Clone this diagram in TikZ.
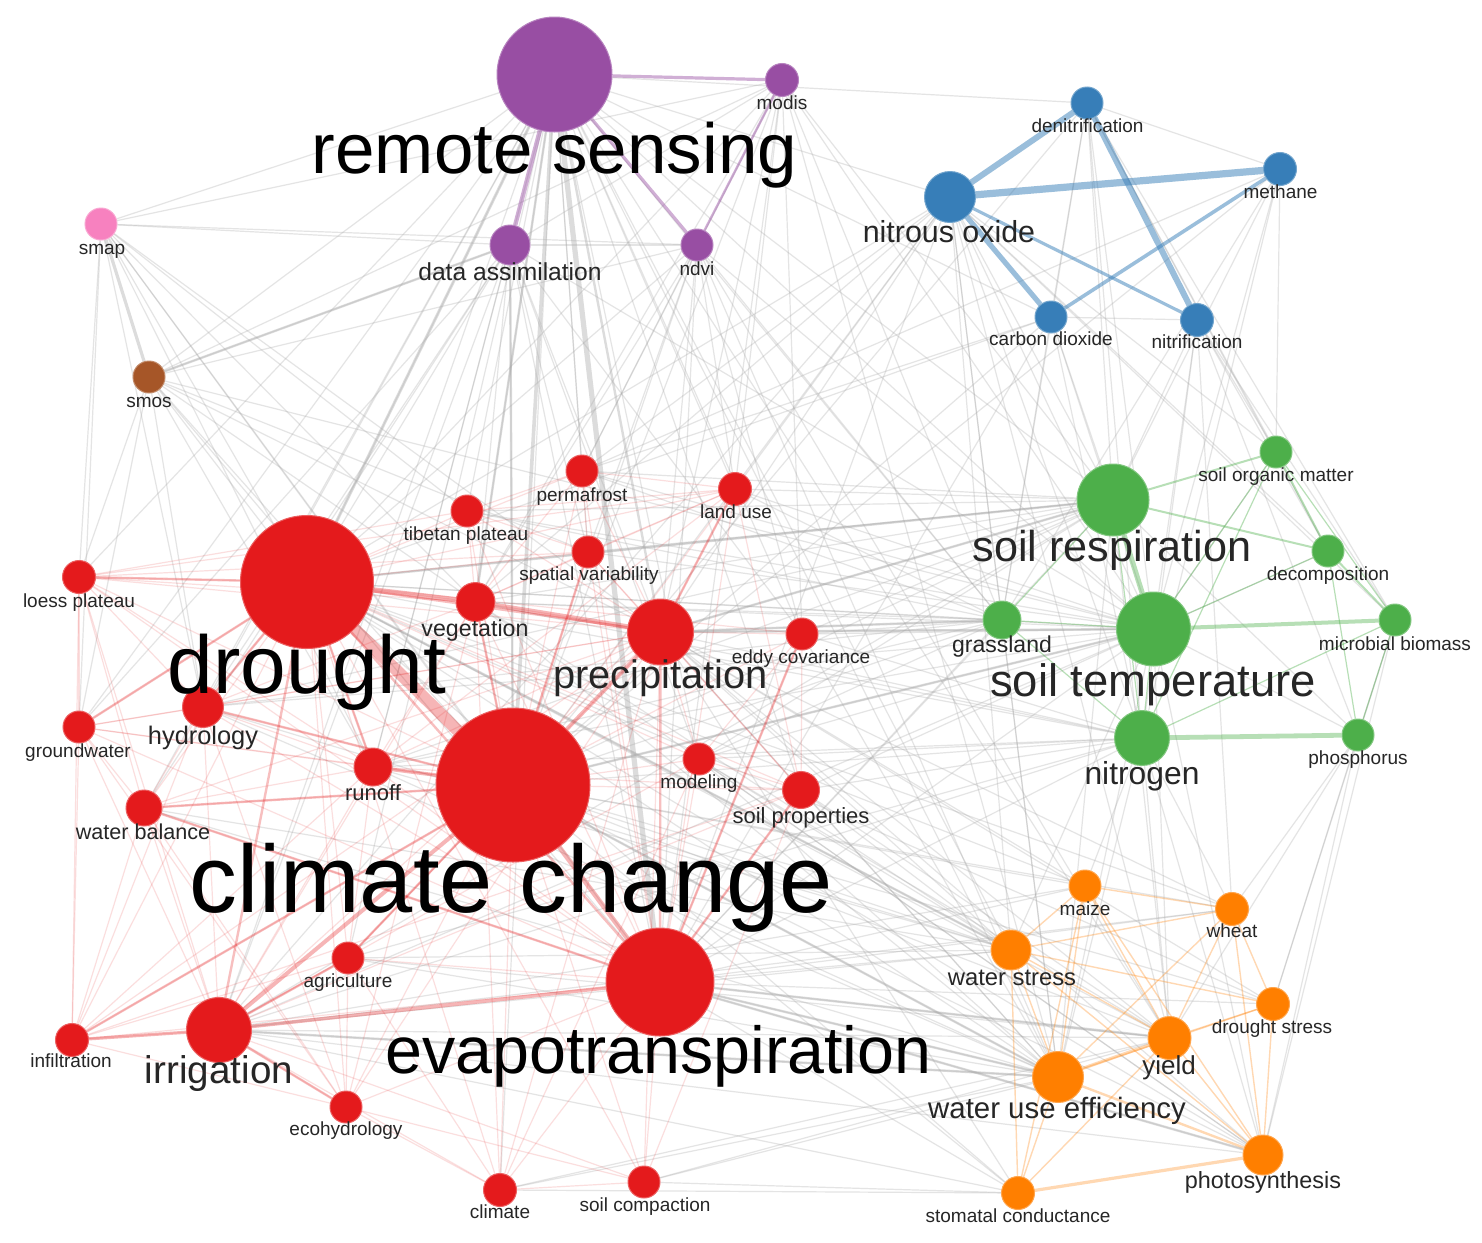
\documentclass[tikz,border=0pt]{standalone}
\usepackage{fontspec}
\setmainfont{Liberation Sans}
\usetikzlibrary{backgrounds}
\definecolor{cpur}{HTML}{984EA3}
\definecolor{cblu}{HTML}{377EB8}
\definecolor{cgrn}{HTML}{4DAF4A}
\definecolor{corg}{HTML}{FF7F00}
\definecolor{cred}{HTML}{E41A1C}
\definecolor{cpnk}{HTML}{F781BF}
\definecolor{cbrn}{HTML}{A65628}
\definecolor{labc}{HTML}{262626}
\definecolor{gedgec}{HTML}{A8A8A8}
\tikzset{
  kw/.style={circle, inner sep=0pt, minimum size=#1pt, line width=.5pt},
  npur/.style={kw=#1, fill=cpur, draw=cpur!70!white},
  nblu/.style={kw=#1, fill=cblu, draw=cblu!70!white},
  ngrn/.style={kw=#1, fill=cgrn, draw=cgrn!70!white},
  norg/.style={kw=#1, fill=corg, draw=corg!70!white},
  nred/.style={kw=#1, fill=cred, draw=cred!70!white},
  npnk/.style={kw=#1, fill=cpnk, draw=cpnk!70!white},
  nbrn/.style={kw=#1, fill=cbrn, draw=cbrn!70!white},
  lab/.style={anchor=base, inner sep=0pt, text=labc, font=\fontsize{9.5}{10}\selectfont},
  blab/.style={anchor=base, inner sep=0pt, text=labc, font=\fontsize{#1}{#1}\selectfont},
  ge/.style={draw=gedgec, opacity=.3, line width=.6pt},
  gm/.style={draw=gedgec, opacity=.4, line width=1.2pt},
  gx/.style={draw=gedgec, opacity=.4, line width=#1pt},
  re/.style={draw=cred, opacity=.14, line width=.6pt},
  rm/.style={draw=cred, opacity=.28, line width=1.2pt},
  rx/.style={draw=cred, opacity=.32, line width=#1pt},
  be/.style={draw=cblu, opacity=.5, line width=#1pt},
  gre/.style={draw=cgrn, opacity=.4, line width=#1pt},
  oe/.style={draw=corg, opacity=.3, line width=#1pt},
  pe/.style={draw=cpur, opacity=.45, line width=#1pt},
}
\begin{document}
\begin{tikzpicture}[x=0.5pt, y=-0.5pt]
\useasboundingbox (0,0) rectangle (1482,1242);
% ---------- nodes ----------
% purple
\node[npur=57.5] (rs) at (554.5,74.5) {};
\node[npur=16.5] (modis) at (782,80) {};
\node[npur=20] (da) at (510,245) {};
\node[npur=16] (ndvi) at (697,245) {};
\node[npnk=16] (smap) at (101,224) {};
\node[nbrn=16] (smos) at (149,377) {};
% blue
\node[nblu=16] (denit) at (1087,103) {};
\node[nblu=16.5] (meth) at (1280,169) {};
\node[nblu=25.5] (ntwo) at (950,197) {};
\node[nblu=16] (cotwo) at (1051,317) {};
\node[nblu=16.5] (nitri) at (1197,320) {};
% green
\node[ngrn=16] (som) at (1276,452) {};
\node[ngrn=36] (sresp) at (1113,500) {};
\node[ngrn=16] (decomp) at (1328,551) {};
\node[ngrn=19] (grass) at (1002,620) {};
\node[ngrn=37] (stemp) at (1153.5,629) {};
\node[ngrn=16] (mbio) at (1395,620) {};
\node[ngrn=27.5] (nitro) at (1142,738) {};
\node[ngrn=16] (phos) at (1358,735) {};
% orange
\node[norg=16] (maize) at (1085,886) {};
\node[norg=16.5] (wheat) at (1232,909) {};
\node[norg=20] (wstress) at (1011,950) {};
\node[norg=16.5] (dstress) at (1273,1004) {};
\node[norg=21.5] (yield) at (1169.5,1038) {};
\node[norg=25.5] (wue) at (1058,1077) {};
\node[norg=20] (photo) at (1263,1155) {};
\node[norg=16.5] (stoma) at (1018,1193) {};
% red
\node[nred=16] (perma) at (582,471) {};
\node[nred=16.5] (landuse) at (735,489) {};
\node[nred=16] (tibet) at (467,511) {};
\node[nred=16] (spatial) at (588,552) {};
\node[nred=16.5] (loess) at (79,577) {};
\node[nred=66.5] (drought) at (307,582) {};
\node[nred=19.5] (veg) at (475.5,602) {};
\node[nred=33] (precip) at (660.5,632) {};
\node[nred=16] (eddy) at (802,634) {};
\node[nred=16] (gw) at (79,727) {};
\node[nred=20.5] (hydro) at (203,707) {};
\node[nred=19] (runoff) at (373,767) {};
\node[nred=77] (cc) at (513,785) {};
\node[nred=16] (model) at (699,759) {};
\node[nred=18.5] (soilprop) at (801,790) {};
\node[nred=18] (wbal) at (144,808) {};
\node[nred=16] (agri) at (348,958) {};
\node[nred=54] (et) at (660,982) {};
\node[nred=32.5] (irri) at (219,1030) {};
\node[nred=16.5] (infil) at (72,1040) {};
\node[nred=16] (ecoh) at (346,1107) {};
\node[nred=16.5] (climate) at (500,1190) {};
\node[nred=16] (compact) at (644,1182) {};
% ---------- connectors ----------
\begin{scope}[on background layer]
\fill[white] (0,0) rectangle (1482,1242);
% gray cross-cluster
\foreach \t in {drought,veg,hydro,runoff,smap,smos,landuse,perma,tibet,spatial,eddy,model,sresp,stemp,grass,ntwo,wue,wstress,yield,irri,gw,loess,wbal,soilprop,climate,agri,denit,cotwo}
  \draw[ge] (rs) -- (\t);
\draw[gx=2.6] (rs) -- (et);
\draw[gx=1.8] (rs) -- (cc);
\draw[gx=1.5] (rs) -- (drought);
\draw[gm] (rs) -- (precip);
\draw[gm] (rs) -- (veg);
\foreach \t in {da,cc,drought,et,precip,veg,modis,ndvi,loess,hydro,gw,runoff,tibet}
  \draw[ge] (smap) -- (\t);
\draw[gx=1.6] (smap) -- (smos);
\foreach \t in {da,drought,cc,et,precip,veg,ndvi,modis,hydro,runoff,gw,loess,stemp,spatial}
  \draw[ge] (smos) -- (\t);
\draw[gm] (smos) -- (da);
\foreach \t in {cc,et,drought,precip,veg,hydro,runoff,gw,wbal,spatial,model,stemp,ndvi,modis,irri,eddy}
  \draw[ge] (da) -- (\t);
\draw[gm] (da) -- (cc);
\foreach \t in {drought,cc,et,veg,precip,landuse,grass,stemp,yield,wue,eddy,spatial,perma}
  \draw[ge] (ndvi) -- (\t);
\foreach \t in {drought,cc,et,veg,precip,landuse,grass,eddy,stemp,sresp,wue,perma}
  \draw[ge] (modis) -- (\t);
\foreach \t in {cc,drought,et,precip,irri,sresp,stemp,nitro,grass,yield,wue,som,decomp,mbio,wstress,perma,landuse,veg}
  \draw[ge] (ntwo) -- (\t);
\foreach \t in {nitro,stemp,sresp,cotwo,meth,grass,som,mbio,decomp,cc}
  \draw[ge] (denit) -- (\t);
\foreach \t in {stemp,sresp,grass,nitro,perma,som,cc}
  \draw[ge] (meth) -- (\t);
\foreach \t in {sresp,stemp,nitro,grass,cc,drought,nitri,perma,et}
  \draw[ge] (cotwo) -- (\t);
\foreach \t in {nitro,stemp,sresp,som,mbio,phos,decomp,wheat}
  \draw[ge] (nitri) -- (\t);
\foreach \t in {cc,drought,et,precip,veg,irri,model,eddy,perma,landuse,spatial,tibet,wue,yield,hydro,runoff,phos}
  \draw[ge] (sresp) -- (\t);
\foreach \t in {cc,drought,et,precip,veg,irri,som,decomp,phos,model,eddy,landuse,perma,spatial,tibet,hydro,runoff,wue,yield,wstress,photo,soilprop}
  \draw[ge] (stemp) -- (\t);
\draw[gm] (stemp) -- (cc);
\draw[gm] (stemp) -- (precip);
\draw[gm] (sresp) -- (drought);
\draw[gm] (sresp) -- (precip);
\foreach \t in {cc,drought,et,precip,veg,eddy,model,landuse,tibet,perma,hydro,runoff,wue}
  \draw[ge] (grass) -- (\t);
\draw[gm] (grass) -- (precip);
\foreach \t in {cc,drought,et,precip,irri,veg,soilprop,model,yield,wue,maize,wheat,photo,agri,runoff,eddy}
  \draw[ge] (nitro) -- (\t);
\foreach \t in {yield,wheat,photo,dstress}
  \draw[ge] (phos) -- (\t);
\foreach \t in {photo,dstress,phos}
  \draw[ge] (mbio) -- (\t);
\foreach \t in {cc,drought,et,precip,irri,veg,hydro,runoff,agri,model,soilprop,climate,compact,eddy,wbal}
  \draw[ge] (wue) -- (\t);
\draw[gm] (wue) -- (et);
\draw[gm] (wue) -- (cc);
\draw[gm] (wue) -- (irri);
\foreach \t in {cc,drought,et,precip,irri,agri,climate,compact,model,soilprop}
  \draw[ge] (yield) -- (\t);
\draw[gm] (yield) -- (et);
\foreach \t in {cc,drought,et,precip,irri,veg,hydro,runoff,agri,model,soilprop,wbal}
  \draw[ge] (wstress) -- (\t);
\draw[gm] (wstress) -- (drought);
\foreach \t in {cc,drought,et,precip,irri,veg,model}
  \draw[ge] (photo) -- (\t);
\draw[gm] (photo) -- (et);
\foreach \t in {cc,drought,et,irri,precip,compact,climate}
  \draw[ge] (stoma) -- (\t);
\foreach \t in {cc,drought,et,precip,irri}
  \draw[ge] (maize) -- (\t);
\foreach \t in {cc,drought,et,precip,irri}
  \draw[ge] (wheat) -- (\t);
\foreach \t in {cc,drought,et,precip}
  \draw[ge] (dstress) -- (\t);
% red cluster
\foreach \h in {drought,cc,et,precip}
  \foreach \t in {loess,gw,hydro,wbal,runoff,agri,infil,ecoh,climate,compact,tibet,perma,spatial,landuse,eddy,model,soilprop,veg}
    \draw[re] (\h) -- (\t);
\foreach \t in {loess,gw,hydro,wbal,runoff,agri,infil,ecoh,climate,compact,veg,model,soilprop,precip}
  \draw[re] (irri) -- (\t);
\foreach \a/\b in {loess/gw,loess/infil,loess/wbal,loess/hydro,loess/veg,loess/tibet,loess/spatial,loess/landuse,loess/runoff,
  gw/hydro,gw/wbal,gw/infil,gw/runoff,hydro/wbal,hydro/runoff,hydro/veg,hydro/infil,hydro/ecoh,
  wbal/runoff,wbal/infil,runoff/veg,runoff/landuse,runoff/infil,runoff/soilprop,runoff/agri,
  veg/tibet,veg/perma,veg/spatial,veg/landuse,veg/ecoh,veg/climate,tibet/perma,tibet/spatial,tibet/landuse,
  perma/spatial,perma/landuse,spatial/landuse,spatial/soilprop,landuse/soilprop,eddy/model,eddy/soilprop,
  model/soilprop,agri/ecoh,agri/climate,ecoh/climate,ecoh/compact,climate/compact,infil/ecoh,infil/soilprop,
  soilprop/compact,model/climate,wbal/ecoh,gw/ecoh,infil/agri}
  \draw[re] (\a) -- (\b);
\foreach \a/\b in {drought/precip,drought/et,drought/irri,drought/hydro,drought/loess,drought/runoff,cc/hydro,cc/wbal,
  precip/et,cc/infil,et/eddy,et/wbal,irri/ecoh,irri/agri,cc/spatial,cc/agri,drought/gw,precip/landuse,veg/cc,et/soilprop}
  \draw[rm] (\a) -- (\b);
\draw[rx=6] (drought) -- (cc);
\draw[rx=2.6] (drought) -- (veg);
\draw[rx=2.4] (veg) -- (precip);
\draw[rx=2.4] (cc) -- (et);
\draw[rx=2] (cc) -- (precip);
\draw[rx=2] (cc) -- (irri);
\draw[rx=1.8] (et) -- (irri);
\draw[rx=1.8] (cc) -- (runoff);
\draw[rx=1.6] (irri) -- (infil);
% purple
\draw[pe=1.6] (rs) -- (modis);
\draw[pe=2.2] (rs) -- (da);
\draw[pe=1.6] (rs) -- (ndvi);
\draw[pe=1.2] (modis) -- (ndvi);
% blue
\draw[be=3] (ntwo) -- (denit);
\draw[be=3.6] (ntwo) -- (meth);
\draw[be=2.6] (ntwo) -- (cotwo);
\draw[be=1.6] (ntwo) -- (nitri);
\draw[be=3] (denit) -- (nitri);
\draw[be=1.8] (cotwo) -- (meth);
% green
\draw[gre=2.6] (sresp) -- (stemp);
\draw[gre=2.4] (nitro) -- (phos);
\foreach \a/\b in {sresp/som,sresp/decomp,som/decomp,decomp/mbio}
  \draw[gre=1] (\a) -- (\b);
\draw[gre=2] (stemp) -- (mbio);
\foreach \a/\b in {grass/stemp,grass/sresp,stemp/nitro,sresp/nitro,som/mbio,decomp/phos,mbio/phos,som/stemp,decomp/stemp,nitro/mbio,grass/nitro,som/nitro}
  \draw[gre=.6] (\a) -- (\b);
% orange
\draw[oe=1.6] (wue) -- (yield);
\draw[oe=1.6] (stoma) -- (photo);
\draw[oe=1.2] (wue) -- (photo);
\foreach \a/\b in {yield/photo,wstress/yield,wstress/wue,wstress/stoma,wstress/photo,maize/wheat,maize/yield,maize/wue,maize/photo,
  maize/stoma,wheat/yield,wheat/photo,wheat/dstress,wheat/wue,yield/dstress,dstress/photo,dstress/wue,stoma/wue,stoma/yield,
  wstress/maize,wstress/dstress,wstress/wheat}
  \draw[oe=.7] (\a) -- (\b);
\end{scope}
% ---------- labels ----------
\node[blab=35.5, text=black] (lrs) at (554.5,173) {remote sensing};
\node[lab] (lmodis) at (782,109) {modis};
\node[blab=12.3] (lda) at (510,280) {data assimilation};
\node[lab] (lndvi) at (697,275) {ndvi};
\node[lab] (lsmap) at (102,254) {smap};
\node[lab] (lsmos) at (149,407) {smos};
\node[lab] (ldenit) at (1087.5,132) {denitrification};
\node[lab] (lmeth) at (1280.5,198) {methane};
\node[blab=15.2] (lntwo) at (949,242) {nitrous oxide};
\node[lab] (lcotwo) at (1051,345) {carbon dioxide};
\node[lab] (lnitri) at (1197,348) {nitrification};
\node[lab] (lsom) at (1276,481) {soil organic matter};
\node[blab=21.6] (lsresp) at (1112,561) {soil respiration};
\node[lab] (ldecomp) at (1328,580) {decomposition};
\node[blab=11.5] (lgrass) at (1002,652) {grassland};
\node[blab=22.7] (lstemp) at (1153,696) {soil temperature};
\node[lab] (lmbio) at (1395,650) {microbial biomass};
\node[blab=15.9] (lnitro) at (1142,784) {nitrogen};
\node[lab] (lphos) at (1358,764) {phosphorus};
\node[lab] (lmaize) at (1085,915) {maize};
\node[lab] (lwheat) at (1232,937) {wheat};
\node[blab=11.9] (lwstress) at (1012,985) {water stress};
\node[lab] (ldstress) at (1272,1033) {drought stress};
\node[blab=13] (lyield) at (1169,1074) {yield};
\node[blab=14.7] (lwue) at (1057,1118) {water use efficiency};
\node[blab=11.7] (lphoto) at (1263,1188) {photosynthesis};
\node[lab] (lstoma) at (1018,1222) {stomatal conductance};
\node[lab] (lperma) at (582,501) {permafrost};
\node[lab] (llanduse) at (736,518) {land use};
\node[lab] (ltibet) at (466,540) {tibetan plateau};
\node[lab] (lspatial) at (589,580) {spatial variability};
\node[lab] (lloess) at (79,607) {loess plateau};
\node[blab=41, text=black] (ldrought) at (307,693) {drought};
\node[blab=11.6] (lveg) at (475,636) {vegetation};
\node[blab=19.9] (lprecip) at (660.5,688) {precipitation};
\node[lab] (leddy) at (801,663) {eddy covariance};
\node[lab] (lgw) at (78,757) {groundwater};
\node[blab=12.7] (lhydro) at (203,744) {hydrology};
\node[blab=11] (lrunoff) at (373,800) {runoff};
\node[blab=47.8, text=black] (lcc) at (511.5,912) {climate change};
\node[lab] (lmodel) at (699,788) {modeling};
\node[blab=11] (lsoilprop) at (801,823) {soil properties};
\node[blab=10.8] (lwbal) at (143,839) {water balance};
\node[lab] (lagri) at (348,987) {agriculture};
\node[blab=33.2, text=black] (let) at (658.5,1073) {evapotranspiration};
\node[blab=19.3] (lirri) at (219,1083) {irrigation};
\node[lab] (linfil) at (71,1067) {infiltration};
\node[lab] (lecoh) at (346,1135) {ecohydrology};
\node[lab] (lclimate) at (500,1218) {climate};
\node[lab] (lcompact) at (645,1211) {soil compaction};
\end{tikzpicture}
\end{document}
